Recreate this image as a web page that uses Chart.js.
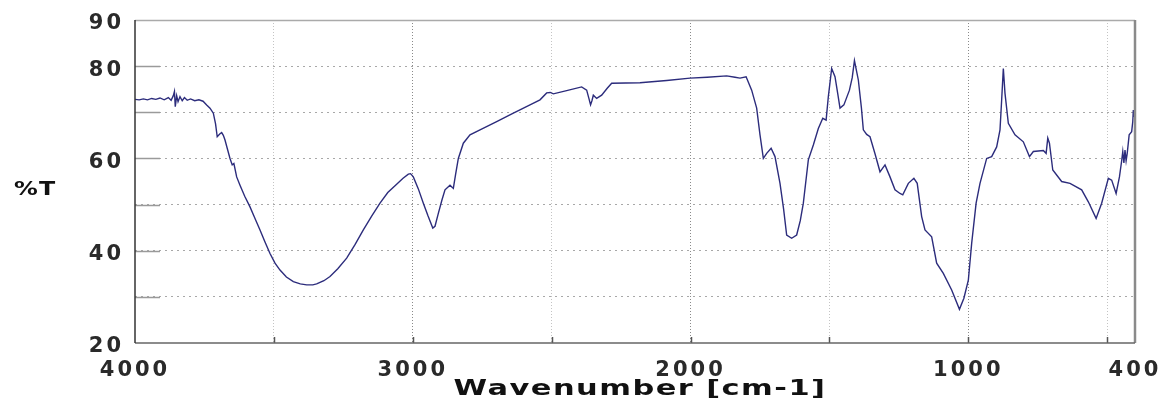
<!DOCTYPE html>
<html>
<head>
<meta charset="utf-8">
<script src="https://cdn.jsdelivr.net/npm/chart.js@4"></script>
<style>
  html, body { margin: 0; padding: 0; background: #fff; }
  #wrap { width: 1162px; height: 404px; }
</style>
</head>
<body>
<div id="wrap"><canvas id="irChart" width="1162" height="404"></canvas></div>
<script>
// --- IR spectrum (wavenumber in cm-1, %T) ---
const wavenumbers = [
  4000, 3985, 3970, 3955, 3940, 3925, 3910, 3895, 3880, 3870, 3862, 3858, 3855, 3850, 3845, 3838, 3830, 3822, 3812, 3800,
  3785, 3770, 3755, 3742, 3730, 3718, 3710, 3704, 3695, 3688, 3682, 3676, 3668, 3658, 3650, 3644, 3634, 3622, 3605, 3586,
  3568, 3550, 3532, 3514, 3496, 3478, 3455, 3430, 3405, 3382, 3360, 3346, 3320, 3298, 3270, 3238, 3208, 3178, 3148, 3118,
  3090, 3060, 3035, 3016, 3008, 2998, 2980, 2962, 2945, 2928, 2920, 2908, 2895, 2884, 2866, 2854, 2846, 2836, 2818, 2794,
  2758, 2698, 2638, 2578, 2542, 2518, 2505, 2494, 2446, 2392, 2374, 2366, 2360, 2355, 2350, 2338, 2320, 2300, 2284, 2182,
  2086, 2002, 1940, 1870, 1840, 1822, 1800, 1780, 1762, 1750, 1738, 1726, 1710, 1696, 1678, 1665, 1654, 1636, 1618, 1605,
  1594, 1576, 1558, 1540, 1524, 1512, 1504, 1492, 1480, 1470, 1462, 1448, 1428, 1418, 1410, 1396, 1385, 1378, 1366, 1354,
  1336, 1318, 1300, 1282, 1264, 1246, 1236, 1216, 1196, 1184, 1168, 1156, 1132, 1114, 1090, 1060, 1032, 1016, 1000, 988,
  972, 958, 934, 916, 898, 886, 880, 874, 868, 856, 832, 802, 780, 766, 730, 720, 714, 708, 696, 664,
  634, 592, 568, 540, 520, 496, 484, 468, 456, 448, 444, 440, 436, 432, 428, 421, 412, 408, 406, 403, 400
];
const transmittance = [
  72.8, 72.7, 72.9, 72.7, 73.0, 72.8, 73.1, 72.7, 73.2, 72.6, 73.6, 74.5, 71.2, 73.6, 72.3, 73.4, 72.5, 73.2, 72.6, 72.9,
  72.5, 72.7, 72.4, 71.6, 70.9, 69.8, 67.5, 64.7, 65.3, 65.6, 65.0, 64.0, 62.2, 60.0, 58.6, 58.9, 56.0, 54.2, 51.8, 49.5,
  47.0, 44.5, 41.9, 39.4, 37.3, 35.8, 34.3, 33.3, 32.8, 32.6, 32.6, 32.8, 33.5, 34.4, 36.1, 38.4, 41.3, 44.5, 47.5, 50.3,
  52.6, 54.3, 55.7, 56.6, 56.7, 56.0, 53.4, 50.3, 47.5, 44.9, 45.3, 48.1, 51.0, 53.2, 54.2, 53.5, 56.5, 60.0, 63.3, 65.1,
  66.2, 68.0, 69.8, 71.6, 72.7, 74.2, 74.3, 74.0, 74.7, 75.5, 74.8, 73.0, 71.6, 72.5, 73.7, 73.0, 73.7, 75.2, 76.3, 76.4,
  76.9, 77.4, 77.6, 77.9, 77.6, 77.4, 77.7, 74.8, 70.9, 65.1, 60.0, 61.1, 62.2, 60.4, 54.6, 49.0, 43.4, 42.7, 43.4, 46.5,
  50.3, 59.7, 62.9, 66.5, 68.7, 68.3, 73.4, 79.5, 77.7, 74.0, 70.9, 71.6, 74.8, 77.5, 81.2, 77.0, 71.0, 66.2, 65.2, 64.7,
  61.0, 57.1, 58.6, 56.0, 53.2, 52.4, 52.1, 54.6, 55.7, 54.6, 47.4, 44.5, 43.0, 37.3, 35.1, 31.5, 27.3, 29.7, 33.6, 41.6,
  50.3, 54.6, 60.0, 60.4, 62.5, 66.2, 72.7, 79.5, 74.1, 67.6, 65.1, 63.6, 60.4, 61.5, 61.7, 61.1, 64.4, 63.3, 57.5, 55.0,
  54.6, 53.2, 50.6, 47.0, 50.3, 55.7, 55.3, 52.4, 56.0, 59.5, 61.5, 59.0, 61.8, 59.5, 61.1, 65.1, 65.8, 68.0, 70.5, 69.0, 71.6
];

// --- axes ---
const xGridValues = [4000, 3500, 3000, 2500, 2000, 1500, 1000, 500, 400];
const xLabelValues = [4000, 3000, 2000, 1000, 400];
const yLabelValues = [90, 80, 60, 40, 20];
const xTitle = 'Wavenumber [cm-1]';
const yTitle = '%T';

const TEXT_FONT = "'DejaVu Sans', sans-serif";

// draws stretched bold text (the original uses a wide font)
function wideText(ctx, text, x, y, size, stretch, align) {
  ctx.save();
  ctx.letterSpacing = '1px';
  ctx.font = 'bold ' + size + 'px ' + TEXT_FONT;
  ctx.fillStyle = '#111';
  ctx.textBaseline = 'middle';
  ctx.textAlign = align;
  ctx.translate(x, y);
  ctx.scale(stretch, 1);
  ctx.fillText(text, 0, 0);
  ctx.restore();
}

// frame, inner tick marks and the axis titles
const framePlugin = {
  id: 'frame',
  beforeDraw(chart) {
    chart.ctx.letterSpacing = '3px';
  },
  afterDraw(chart) {
    const { ctx, chartArea: a, scales } = chart;
    ctx.save();
    ctx.setLineDash([]);

    // y tick marks inside the frame
    ctx.strokeStyle = '#9a9a9a';
    ctx.lineWidth = 1.5;
    scales.y.ticks.forEach(t => {
      if (t.value <= 20 || t.value >= 90) return;
      const y = Math.round(scales.y.getPixelForValue(t.value)) + 0.5;
      ctx.beginPath(); ctx.moveTo(a.left, y); ctx.lineTo(a.left + 25, y); ctx.stroke();
    });
    // x tick marks inside the frame
    ctx.strokeStyle = '#555';
    scales.x.ticks.forEach(t => {
      if (t.value >= 4000 || t.value <= 400) return;
      const x = Math.round(scales.x.getPixelForValue(t.value)) + 0.5;
      ctx.beginPath(); ctx.moveTo(x, a.bottom); ctx.lineTo(x, a.bottom - 6); ctx.stroke();
    });

    // frame
    ctx.strokeStyle = '#aaa'; ctx.lineWidth = 1.5;
    ctx.beginPath(); ctx.moveTo(a.left, a.top + 0.5); ctx.lineTo(a.right, a.top + 0.5); ctx.stroke();
    ctx.strokeStyle = '#8a8a8a'; ctx.lineWidth = 2.5;
    ctx.beginPath(); ctx.moveTo(a.right, a.top); ctx.lineTo(a.right, a.bottom); ctx.stroke();
    ctx.strokeStyle = '#666'; ctx.lineWidth = 1.5;
    ctx.beginPath(); ctx.moveTo(a.left, a.bottom); ctx.lineTo(a.right, a.bottom); ctx.stroke();
    ctx.strokeStyle = '#333'; ctx.lineWidth = 1.5;
    ctx.beginPath(); ctx.moveTo(a.left, a.top); ctx.lineTo(a.left, a.bottom); ctx.stroke();
    ctx.restore();

    // axis titles
    wideText(ctx, yTitle, 14, 190, 19, 1.25, 'left');
    wideText(ctx, xTitle, (a.left + a.right) / 2 + 5, 390, 21, 1.45, 'center');
  }
};

const ctx = document.getElementById('irChart').getContext('2d');

new Chart(ctx, {
  type: 'line',
  data: {
    datasets: [{
      label: yTitle,
      data: wavenumbers.map((w, i) => ({ x: w, y: transmittance[i] })),
      borderColor: '#2c2c7c',
      borderWidth: 1.4,
      pointRadius: 0,
      tension: 0,
      fill: false
    }]
  },
  options: {
    responsive: false,
    animation: false,
    layout: { padding: { top: 20, right: 27, left: 0, bottom: 0 } },
    plugins: { legend: { display: false }, tooltip: { enabled: false } },
    scales: {
      x: {
        type: 'linear',
        min: 400,
        max: 4000,
        reverse: true,
        afterBuildTicks: (scale) => {
          scale.ticks = xGridValues.map(v => ({ value: v }));
        },
        afterFit: (scale) => {
          scale.height = 61;
          scale.paddingLeft = 0;
          scale.paddingRight = 0;
        },
        ticks: {
          autoSkip: false,
          maxRotation: 0,
          padding: 15,
          color: '#2a2a2a',
          font: { family: TEXT_FONT, size: 21, weight: 'bold' },
          callback: (v) => xLabelValues.includes(v) ? String(v) : ''
        },
        grid: {
          drawTicks: false,
          color: (c) => {
            const v = c.tick && c.tick.value;
            if (v === 4000 || v === 400) return 'rgba(0,0,0,0)';
            return (v % 1000 === 0) ? '#8a8a8a' : '#c4c4c4';
          },
          lineWidth: 1
        },
        border: { display: false, dash: [1, 2] },
        title: { display: false }
      },
      y: {
        min: 20,
        max: 90,
        afterFit: (scale) => {
          scale.width = 135;
          scale.paddingTop = 0;
          scale.paddingBottom = 0;
        },
        ticks: {
          stepSize: 10,
          padding: 11,
          labelOffset: 4,
          color: '#2a2a2a',
          font: { family: TEXT_FONT, size: 21, weight: 'bold' },
          callback: (v) => yLabelValues.includes(v) ? String(v) : ''
        },
        grid: {
          drawTicks: false,
          color: (c) => {
            const v = c.tick && c.tick.value;
            return (v === 20 || v === 90) ? 'rgba(0,0,0,0)' : '#a8a8a8';
          },
          lineWidth: 1
        },
        border: { display: false, dash: [2, 4] }
      }
    }
  },
  plugins: [framePlugin]
});
</script>
</body>
</html>
